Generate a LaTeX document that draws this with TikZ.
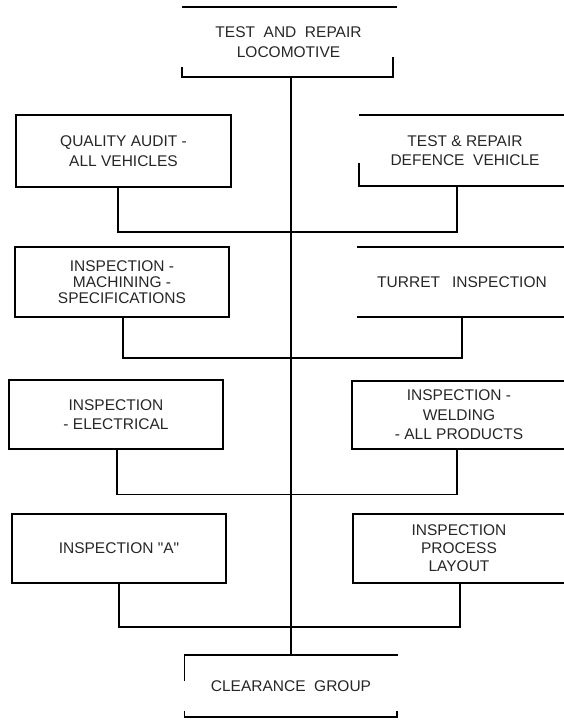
\documentclass[tikz,border=0pt]{standalone}
\usepackage{fontspec}
\setmainfont{Liberation Sans}[Ligatures=TeXOff]
\newcommand{\labfont}{\fontsize{15.5}{19.5}\selectfont}
\begin{document}
\begin{tikzpicture}[x=1pt,y=-1pt,
  lbl/.style={inner sep=0pt, align=center, font=\labfont, text=black!85},
  box/.style={lbl, draw, line width=1.5pt},
  wire/.style={line width=1.6pt},
  edge/.style={line width=1.6pt}]
\useasboundingbox (0,0) rectangle (563,726);
% nodes
\node[lbl, minimum width=213pt, minimum height=70pt] (top) at (288.5,42) {TEST\ \ AND\ \ REPAIR\\[1pt]LOCOMOTIVE};
\node[box, minimum width=215pt, minimum height=72pt] (qa) at (123.5,151) {QUALITY AUDIT -\\ALL VEHICLES};
\node[lbl, minimum width=212pt, minimum height=71pt] (def) at (465,150.5) {TEST \& REPAIR\\DEFENCE\ \ VEHICLE};
\node[box, minimum width=214pt, minimum height=70pt, font=\fontsize{15.5}{16}\selectfont] (mach) at (122,282) {INSPECTION -\\MACHINING -\\SPECIFICATIONS};
\node[lbl, minimum width=210pt, minimum height=70pt] (tur) at (462,282) {TURRET\hspace{12pt}INSPECTION};
\node[box, minimum width=214pt, minimum height=69pt] (elec) at (116,414.5) {INSPECTION\\- ELECTRICAL};
\node[box, minimum width=214pt, minimum height=68pt] (weld) at (459,415) {INSPECTION -\\WELDING\\- ALL PRODUCTS};
\node[box, minimum width=214pt, minimum height=69pt] (insa) at (119,548.5) {INSPECTION "A"};
\node[box, minimum width=212pt, minimum height=69pt, font=\fontsize{15.5}{18}\selectfont] (proc) at (459,548.5) {INSPECTION\\PROCESS\\LAYOUT};
\node[lbl, minimum width=213pt, minimum height=62pt] (clr) at (291,686) {CLEARANCE\ \ GROUP};
% partial borders of open boxes
\draw[edge] (top.north west) -- ([xshift=2pt]top.north east);
\draw[edge] ([yshift=10pt]top.south west) -- (top.south west) -- ([xshift=-2pt]top.south east) -- ([xshift=-2pt,yshift=20pt]top.south east);
\draw[edge] (def.north west) -- (def.north east);
\draw[edge] ([yshift=23pt]def.south west) -- (def.south west) -- (def.south east);
\draw[edge] (tur.north west) -- (tur.north east);
\draw[edge] (tur.south west) -- (tur.south east);
\draw[edge] ([yshift=-26pt]clr.north west) -- (clr.north west) -- (clr.north east);
\draw[edge] ([yshift=6pt]clr.south west) -- (clr.south west) -- ([xshift=-1pt]clr.south east) -- ([xshift=-1pt,yshift=6pt]clr.south east);
% spine
\draw[wire] ([xshift=2.5pt]top.south) -- (clr.north);
% bus coordinates on spine
\coordinate (b1) at (291,232);
\coordinate (b2) at (291,358);
\coordinate (b3) at (291,494.5);
\coordinate (b4) at (291,627);
% connectors
\draw[wire] ([xshift=-5.5pt]qa.south) |- (b1) -| ([xshift=-8pt]def.south);
\draw[wire] ([xshift=1pt]mach.south) |- (b2) -| (tur.south);
\draw[wire] ([xshift=1pt]elec.south) |- (b3) -| ([xshift=-2pt]weld.south);
\draw[wire] (insa.south) |- (b4) -| ([xshift=1pt]proc.south);
\end{tikzpicture}
\end{document}
